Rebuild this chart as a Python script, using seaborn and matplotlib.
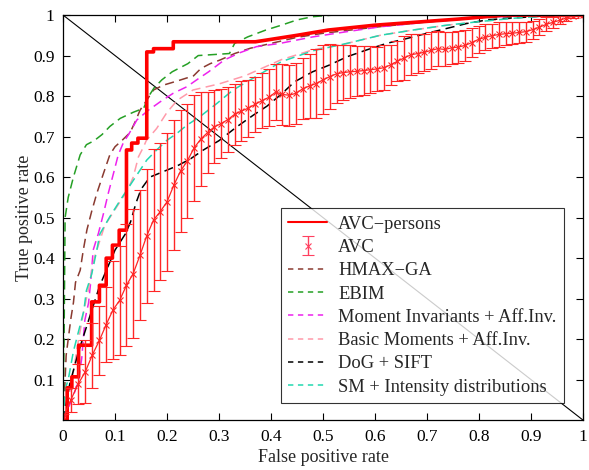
import numpy as np
import pandas as pd
import matplotlib
matplotlib.use("Agg")
import matplotlib.pyplot as plt
from matplotlib.lines import Line2D
import seaborn as sns

# ---------------- data ----------------
persons_fpr = [0, 0.008, 0.008, 0.017, 0.017, 0.03, 0.03, 0.055, 0.055, 0.07, 0.07, 0.083, 0.083,
               0.095, 0.095, 0.108, 0.108, 0.122, 0.122, 0.132, 0.132, 0.144, 0.144, 0.161, 0.161,
               0.174, 0.174, 0.212, 0.212, 0.37, 0.45, 0.51, 0.6, 0.76, 0.85, 1.0]
persons_tpr = [0, 0, 0.08, 0.08, 0.107, 0.107, 0.185, 0.185, 0.292, 0.292, 0.333, 0.333, 0.40,
               0.40, 0.432, 0.432, 0.469, 0.469, 0.667, 0.667, 0.684, 0.684, 0.696, 0.696, 0.909,
               0.909, 0.917, 0.917, 0.934, 0.934, 0.95, 0.963, 0.975, 0.99, 1.0, 1.0]

avc_fpr = [0.0, 0.015, 0.029, 0.043, 0.056, 0.07, 0.083, 0.096, 0.109, 0.122, 0.135, 0.148, 0.161,
           0.174, 0.187, 0.2, 0.213, 0.226, 0.239, 0.252, 0.265, 0.278, 0.291, 0.304, 0.317, 0.33,
           0.343, 0.356, 0.37, 0.383, 0.396, 0.409, 0.422, 0.435, 0.448, 0.461, 0.474, 0.487, 0.5,
           0.513, 0.526, 0.539, 0.552, 0.565, 0.578, 0.591, 0.604, 0.617, 0.63, 0.643, 0.656, 0.669,
           0.682, 0.695, 0.708, 0.721, 0.734, 0.747, 0.76, 0.773, 0.786, 0.799, 0.812, 0.825, 0.838,
           0.851, 0.864, 0.877, 0.89, 0.903, 0.916, 0.929, 0.942, 0.955, 0.968, 0.981, 0.994, 1.0]
avc_tpr = [0.005, 0.05, 0.089, 0.12, 0.16, 0.197, 0.236, 0.272, 0.296, 0.333, 0.362, 0.407, 0.455,
           0.494, 0.515, 0.539, 0.58, 0.615, 0.64, 0.672, 0.694, 0.71, 0.724, 0.732, 0.742, 0.755,
           0.763, 0.77, 0.78, 0.789, 0.797, 0.81, 0.804, 0.802, 0.807, 0.818, 0.825, 0.831, 0.84,
           0.848, 0.855, 0.858, 0.86, 0.861, 0.863, 0.865, 0.867, 0.87, 0.877, 0.886, 0.894, 0.902,
           0.905, 0.908, 0.913, 0.917, 0.915, 0.919, 0.921, 0.925, 0.932, 0.94, 0.945, 0.949, 0.952,
           0.954, 0.955, 0.957, 0.959, 0.964, 0.97, 0.977, 0.982, 0.987, 0.993, 0.997, 1.0, 1.0]
avc_err = [0.01, 0.03, 0.05, 0.077, 0.08, 0.086, 0.092, 0.12, 0.135, 0.15, 0.16, 0.16, 0.165,
           0.175, 0.17, 0.17, 0.16, 0.15, 0.14, 0.13, 0.115, 0.1, 0.09, 0.085, 0.08, 0.075,
           0.075, 0.07, 0.068, 0.068, 0.07, 0.07, 0.075, 0.075, 0.075, 0.075, 0.08, 0.085, 0.085,
           0.08, 0.072, 0.068, 0.065, 0.062, 0.06, 0.058, 0.055, 0.055, 0.05, 0.05, 0.055, 0.05,
           0.048, 0.046, 0.045, 0.044, 0.042, 0.04, 0.04, 0.038, 0.036, 0.034, 0.032, 0.03, 0.03,
           0.028, 0.027, 0.026, 0.025, 0.022, 0.02, 0.017, 0.014, 0.01, 0.007, 0.004, 0.002, 0.0]

hmax_fpr = [0, 0.004, 0.006, 0.01, 0.015, 0.02, 0.024, 0.033, 0.039, 0.046, 0.055, 0.065, 0.078,
            0.09, 0.1, 0.113, 0.129, 0.14, 0.148, 0.161, 0.174, 0.193, 0.219, 0.251, 0.265, 0.283,
            0.302, 0.33, 0.36, 0.4, 0.45, 0.5, 0.6, 0.7, 0.8, 0.9, 1.0]
hmax_tpr = [0, 0.1, 0.16, 0.2, 0.25, 0.29, 0.34, 0.37, 0.42, 0.47, 0.515, 0.56, 0.61,
            0.655, 0.675, 0.69, 0.71, 0.74, 0.765, 0.79, 0.815, 0.827, 0.837, 0.85, 0.868, 0.88,
            0.889, 0.905, 0.918, 0.93, 0.945, 0.955, 0.97, 0.983, 0.993, 0.998, 1.0]

ebim_fpr = [0, 0.002, 0.004, 0.01, 0.02, 0.033, 0.045, 0.06, 0.075, 0.09, 0.11, 0.135, 0.155,
            0.165, 0.175, 0.19, 0.21, 0.24, 0.26, 0.32, 0.33, 0.355, 0.39, 0.42, 0.45, 0.48, 0.52, 1.0]
ebim_tpr = [0, 0.2, 0.5, 0.55, 0.6, 0.655, 0.68, 0.69, 0.705, 0.725, 0.745, 0.76, 0.77,
            0.8, 0.82, 0.84, 0.86, 0.88, 0.9, 0.905, 0.93, 0.946, 0.963, 0.975, 0.988, 0.996, 1.0, 1.0]

mom_fpr = [0, 0.01, 0.02, 0.03, 0.036, 0.042, 0.049, 0.053, 0.058, 0.068, 0.078, 0.087, 0.097,
           0.106, 0.116, 0.126, 0.142, 0.164, 0.187, 0.212, 0.238, 0.257, 0.28, 0.31, 0.34, 0.372,
           0.417, 0.48, 0.546, 0.61, 0.673, 0.738, 0.802, 0.9, 1.0]
mom_tpr = [0, 0.03, 0.06, 0.1, 0.153, 0.247, 0.289, 0.338, 0.42, 0.461, 0.511, 0.56, 0.609,
           0.654, 0.685, 0.705, 0.741, 0.765, 0.786, 0.807, 0.823, 0.84, 0.86, 0.889, 0.907, 0.922,
           0.93, 0.946, 0.959, 0.971, 0.979, 0.988, 0.994, 0.999, 1.0]

basic_fpr = [0, 0.01, 0.02, 0.03, 0.04, 0.05, 0.06, 0.07, 0.08, 0.1, 0.115, 0.125, 0.135, 0.145,
             0.155, 0.16, 0.18, 0.2, 0.22, 0.25, 0.3, 0.35, 0.42, 0.48, 0.546, 0.61, 0.673, 0.738,
             0.802, 0.865, 0.93, 1.0]
basic_tpr = [0, 0.05, 0.12, 0.2, 0.27, 0.33, 0.4, 0.44, 0.48, 0.52, 0.55, 0.57, 0.6, 0.65,
             0.675, 0.69, 0.72, 0.76, 0.79, 0.815, 0.83, 0.85, 0.89, 0.914, 0.93, 0.95, 0.963, 0.975,
             0.984, 0.992, 0.998, 1.0]

dog_fpr = [0, 0.013, 0.03, 0.05, 0.07, 0.09, 0.1, 0.12, 0.13, 0.14, 0.15, 0.167, 0.19, 0.22,
           0.245, 0.27, 0.3, 0.334, 0.366, 0.392, 0.42, 0.445, 0.48, 0.513, 0.546, 0.584, 0.622,
           0.661, 0.7, 0.738, 0.776, 0.815, 0.866, 0.93, 1.0]
dog_tpr = [0, 0.09, 0.17, 0.25, 0.33, 0.39, 0.42, 0.46, 0.49, 0.535, 0.57, 0.6, 0.612, 0.628,
           0.645, 0.667, 0.69, 0.724, 0.753, 0.775, 0.805, 0.835, 0.86, 0.877, 0.897, 0.914, 0.93,
           0.942, 0.955, 0.967, 0.979, 0.988, 0.993, 0.998, 1.0]

sm_fpr = [0, 0.005, 0.01, 0.02, 0.03, 0.04, 0.045, 0.055, 0.065, 0.071, 0.09, 0.11, 0.129, 0.148,
          0.161, 0.18, 0.2, 0.219, 0.238, 0.263, 0.296, 0.327, 0.36, 0.392, 0.42, 0.481, 0.546,
          0.61, 0.673, 0.738, 0.802, 0.865, 0.93, 1.0]
sm_tpr = [0, 0.08, 0.1, 0.17, 0.22, 0.27, 0.32, 0.36, 0.42, 0.46, 0.502, 0.543, 0.58, 0.617,
          0.642, 0.667, 0.691, 0.708, 0.728, 0.749, 0.782, 0.815, 0.84, 0.864, 0.885, 0.912, 0.93,
          0.95, 0.963, 0.975, 0.984, 0.992, 0.998, 1.0]

diag_x = [0, 1]
diag_y = [1, 0]

labels = ["AVC\u2212persons", "AVC", "HMAX\u2212GA", "EBIM", "Moment Invariants + Aff.Inv.",
          "Basic Moments + Aff.Inv.", "DoG + SIFT", "SM + Intensity distributions"]
ticks = [0, 0.1, 0.2, 0.3, 0.4, 0.5, 0.6, 0.7, 0.8, 0.9, 1]
tick_labels = ["0", "0.1", "0.2", "0.3", "0.4", "0.5", "0.6", "0.7", "0.8", "0.9", "1"]

# ---------------- plot ----------------
sns.set_style("ticks")
plt.rcParams["font.family"] = ["Liberation Serif", "DejaVu Serif"]

fig = plt.figure(figsize=(5.89, 4.70), dpi=100)
ax = fig.add_axes([0.107, 0.106, 0.883, 0.862])

dash = (6, 3.5)
sns.lineplot(x=diag_x, y=diag_y, ax=ax, color="black", lw=0.8, sort=False, estimator=None)

series = [
    (hmax_fpr, hmax_tpr, "#8a3a30"),
    (ebim_fpr, ebim_tpr, "#25a025"),
    (mom_fpr, mom_tpr, "#ee22ee"),
    (basic_fpr, basic_tpr, "#ff9aaa"),
    (dog_fpr, dog_tpr, "#000000"),
    (sm_fpr, sm_tpr, "#22d8b0"),
]
h_dash = []
for xs, ys, col in series:
    df = pd.DataFrame({"x": xs, "y": ys})
    sns.lineplot(data=df, x="x", y="y", ax=ax, color=col, lw=1.1, sort=False, estimator=None)
    ax.lines[-1].set_dashes(dash)
    h_dash.append(Line2D([], [], color=col, lw=1.1, dashes=(3.5, 3)))

df_p = pd.DataFrame({"x": persons_fpr, "y": persons_tpr})
sns.lineplot(data=df_p, x="x", y="y", ax=ax, color="#ff0000", lw=2.6, sort=False, estimator=None)
h_persons = Line2D([], [], color="#ff0000", lw=1.5)

ax.errorbar(avc_fpr, avc_tpr, yerr=avc_err, color="#ff2626", lw=0.9, elinewidth=1.0,
            capsize=4, capthick=1.0, marker="x", ms=4, mew=0.8)
h_avc = ax.errorbar([np.nan], [np.nan], yerr=[0.1], color="#ff4060", ls="none", elinewidth=1.0,
                    capsize=4, capthick=1.0, marker="x", ms=4, mew=0.8)

ax.set_xlim(0, 1)
ax.set_ylim(0, 1)
ax.set_xticks(ticks)
ax.set_xticklabels(tick_labels)
ax.set_yticks(ticks[1:])
ax.set_yticklabels(tick_labels[1:])
ax.tick_params(direction="in", top=True, right=True, length=5, width=0.8, labelsize=12.5,
               pad=6, colors="black")
for s in ax.spines.values():
    s.set_linewidth(0.9)
    s.set_color("black")
ax.set_xlabel("False positive rate", fontsize=13, labelpad=3)
ax.set_ylabel("True positive rate", fontsize=13, labelpad=0)

handles = [h_persons, h_avc] + h_dash
leg = ax.legend(handles, labels, loc="lower right", bbox_to_anchor=(0.963, 0.042),
                fontsize=13.3, frameon=True, fancybox=False, edgecolor="black",
                handlelength=2.1, handletextpad=0.6, borderpad=0.4, labelspacing=0.34,
                borderaxespad=0)
leg.get_frame().set_linewidth(0.8)

fig.savefig("out.png", dpi=100, facecolor="white")
